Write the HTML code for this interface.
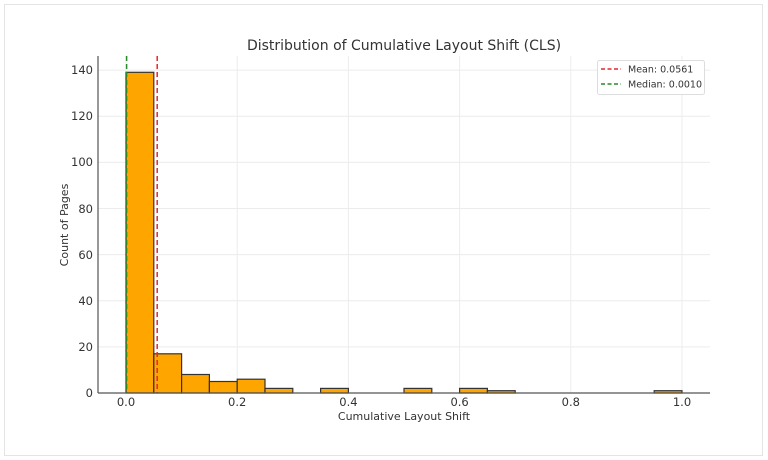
<!DOCTYPE html>
<html><head><style>body{margin:0;background:#fff}svg{display:block;font-family:"DejaVu Sans","Liberation Sans",sans-serif}</style></head>
<body>
<svg width="768" height="460" viewBox="0 0 768 460">
<rect x="4.5" y="4.5" width="758" height="451" fill="#fff" stroke="#e4e4e4"/>
<g stroke="#ececec" stroke-width="1">
<line x1="126" y1="56" x2="126" y2="393"/><line x1="237.2" y1="56" x2="237.2" y2="393"/><line x1="348.4" y1="56" x2="348.4" y2="393"/><line x1="459.6" y1="56" x2="459.6" y2="393"/><line x1="570.8" y1="56" x2="570.8" y2="393"/><line x1="682" y1="56" x2="682" y2="393"/>
<line x1="98" y1="346.9" x2="710" y2="346.9"/><line x1="98" y1="300.7" x2="710" y2="300.7"/><line x1="98" y1="254.6" x2="710" y2="254.6"/><line x1="98" y1="208.5" x2="710" y2="208.5"/><line x1="98" y1="162.4" x2="710" y2="162.4"/><line x1="98" y1="116.2" x2="710" y2="116.2"/><line x1="98" y1="70.1" x2="710" y2="70.1"/>
</g>
<g fill="#ffa500" stroke="#333" stroke-width="1.2">
<rect x="126" y="72.3" width="27.8" height="320.7"/>
<rect x="153.8" y="353.8" width="27.8" height="39.2"/>
<rect x="181.6" y="374.5" width="27.8" height="18.5"/>
<rect x="209.4" y="381.5" width="27.8" height="11.5"/>
<rect x="237.2" y="379.2" width="27.8" height="13.8"/>
<rect x="265" y="388.4" width="27.8" height="4.6"/>
<rect x="320.6" y="388.4" width="27.8" height="4.6"/>
<rect x="404" y="388.4" width="27.8" height="4.6"/>
<rect x="459.6" y="388.4" width="27.8" height="4.6"/>
<rect x="487.4" y="390.7" width="27.8" height="2.3"/>
<rect x="654.2" y="390.7" width="27.8" height="2.3"/>
</g>
<line x1="157.2" y1="56" x2="157.2" y2="393" stroke="#e8262b" stroke-width="1.5" stroke-dasharray="5,3"/>
<line x1="126.6" y1="56" x2="126.6" y2="393" stroke="#2a8a2a" stroke-width="1.5" stroke-dasharray="5,3"/>
<g stroke="#555" stroke-width="1.2"><line x1="98" y1="56" x2="98" y2="393"/><line x1="98" y1="393" x2="710" y2="393"/></g>
<g font-size="11.5" fill="#333" text-anchor="end">
<text x="93" y="397">0</text><text x="93" y="351">20</text><text x="93" y="305">40</text><text x="93" y="259">60</text><text x="93" y="213">80</text><text x="93" y="166">100</text><text x="93" y="120">120</text><text x="93" y="74">140</text>
</g>
<g font-size="11.5" fill="#333" text-anchor="middle">
<text x="126" y="406">0.0</text><text x="237.2" y="406">0.2</text><text x="348.4" y="406">0.4</text><text x="459.6" y="406">0.6</text><text x="570.8" y="406">0.8</text><text x="682" y="406">1.0</text>
<text x="404" y="420" font-size="11">Cumulative Layout Shift</text>
<text x="404" y="50" font-size="14">Distribution of Cumulative Layout Shift (CLS)</text>
<text transform="translate(68,225) rotate(-90)" font-size="11">Count of Pages</text>
</g>
<rect x="597.5" y="60.5" width="107" height="34" fill="#fff" stroke="#ddd" rx="2"/>
<line x1="601" y1="69" x2="621" y2="69" stroke="#e8262b" stroke-width="1.5" stroke-dasharray="4,2.5"/>
<line x1="601" y1="84" x2="621" y2="84" stroke="#2a8a2a" stroke-width="1.5" stroke-dasharray="4,2.5"/>
<g font-size="9.5" fill="#333"><text x="628" y="72.5">Mean: 0.0561</text><text x="628" y="87.5">Median: 0.0010</text></g>
</svg>
</body></html>
